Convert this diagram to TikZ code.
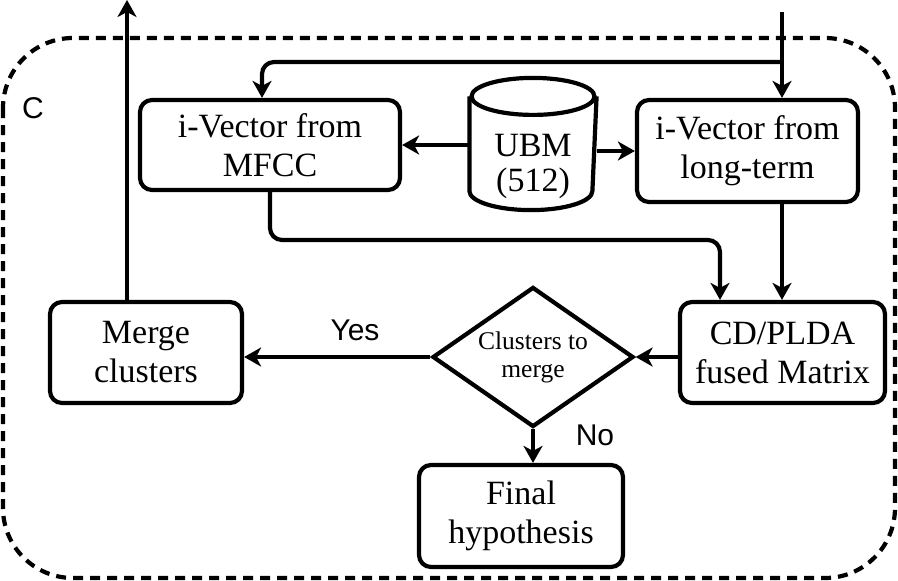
\documentclass[tikz,border=0pt]{standalone}
\usepackage{fontspec}
\setmainfont{Liberation Serif}
\setsansfont{Liberation Sans}
\usetikzlibrary{shapes.geometric,arrows.meta,positioning}

\begin{document}
\begin{tikzpicture}[x=1pt, y=-1pt, line width=4.2pt]
        % Define block styles
        \tikzstyle{block} = [rectangle, draw, rounded corners=12pt, align=center, minimum height=101pt, inner sep=2pt, font=\fontsize{34}{39}\selectfont]
        \tikzstyle{decision} = [diamond, draw, aspect=1.43, minimum width=201pt, minimum height=140pt, inner sep=0pt, align=center, font=\fontsize{25.5}{28}\selectfont]
        \tikzstyle{database} = [rectangle, minimum width=123pt, minimum height=128pt, inner sep=0pt]
        \tikzstyle{line} = [draw, -{Stealth[length=17pt, width=19pt, inset=5pt]}]
        \tikzstyle{tag} = [font=\sffamily\fontsize{30}{30}\selectfont]

        \useasboundingbox (0,0) rectangle (898,581);
        \draw [dash pattern=on 10pt off 7pt, rounded corners=70pt] (3,38) rectangle (895,578);

        % Nodes
        \node [block, minimum width=260pt, minimum height=90pt] (mfcc) at (270,145) {i-Vector from\\MFCC};
        \node [database, label={[yshift=-22pt, align=center, font=\fontsize{34}{35}\selectfont]center:UBM\\(512)}] (ubm) at (533,144) {};
        \node [block, minimum width=221pt, minimum height=102pt] (long) at (747.5,151) {i-Vector from\\long-term};
        \node [block, minimum width=205pt] (cd) at (782.5,352.5) {CD/PLDA\\fused Matrix};
        \node [decision] (dec) at (533,357) {Clusters to\\merge};
        \node [block, minimum width=192pt] (merge) at (146,352.5) {Merge\\clusters};
        \node [block, minimum width=204pt, minimum height=102pt] (final) at (521,516) {Final\\hypothesis};

        % Cylinder outline of the UBM store
        \draw ([yshift=-18.5pt]ubm.north) ellipse [x radius=61.5pt, y radius=18.5pt];
        \draw ([yshift=-18.5pt]ubm.north west) -- ([yshift=19pt]ubm.south west)
            arc [start angle=180, end angle=360, x radius=61.5pt, y radius=19pt]
            -- ([yshift=-18.5pt]ubm.north east);

        % Arrows
        \coordinate (in) at (782,12);
        \coordinate (fork) at (782,62);
        \coordinate (bend) at (720,240);
        \coordinate (out) at (127,0);
        \path [line] (in) -- (in |- long.north);
        \path [line, rounded corners=12pt] (fork) -| ([xshift=-8pt]mfcc.north);
        \path [line] (ubm.west |- mfcc.east) -- (mfcc.east);
        \path [line] (ubm.east |- long.west) -- (long.west);
        \path [line, rounded corners=12pt] (mfcc.south) |- (bend) -- (bend |- cd.north);
        \path [line] (long.south -| in) -- (cd.north -| in);
        \path [line] (cd.west |- dec.east) -- (dec.east);
        \path [line] (dec.west) -- (merge.east |- dec.west);
        \path [line] (dec.south) -- (final.north -| dec.south);
        \path [line] (merge.north -| out) -- (out);

        % Text labels
        \node [tag] (c) at (33,108) {C};
        \node [tag] (yes) at (355,330) {Yes};
        \node [tag] (no) at (595,435) {No};

    \end{tikzpicture}
\end{document}
